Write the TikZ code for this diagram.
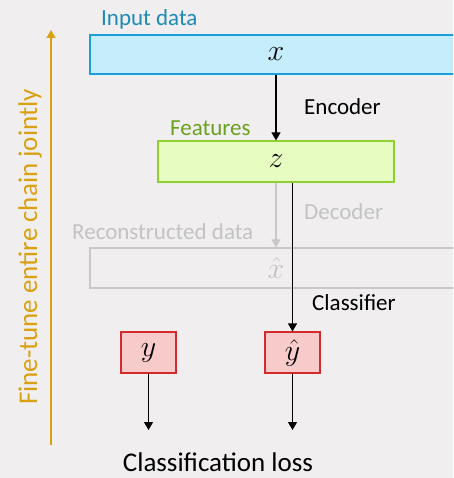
\RequirePackage{fix-cm}
\documentclass[tikz,border=0pt]{standalone}
\usepackage{fontspec}
\setmainfont{Carlito}
\usetikzlibrary{arrows.meta,positioning}
\definecolor{bgcol}{HTML}{F0EEEF}
\definecolor{inblue}{HTML}{C5EDFB}
\definecolor{inline}{HTML}{1AA0D8}
\definecolor{intext}{HTML}{1F8AB5}
\definecolor{featfill}{HTML}{E6FCC0}
\definecolor{featline}{HTML}{8ED12E}
\definecolor{feattext}{HTML}{6AA121}
\definecolor{recline}{HTML}{C8C8C8}
\definecolor{rectext}{HTML}{C3C3C3}
\definecolor{outfill}{HTML}{F8CBCB}
\definecolor{outline}{HTML}{D42A2A}
\definecolor{tunecol}{HTML}{D9A010}
\begin{document}
\begin{tikzpicture}[
		x=1pt, y=-1pt,
		every node/.style={inner sep=0pt, font=\fontsize{23}{27}\selectfont},
		box/.style={draw, line width=1.2pt, minimum height=40pt, font=\fontsize{30}{34}\selectfont},
		inbox/.style={box, fill=inblue, draw=inline, minimum width=372pt, minimum height=39pt},
		featbox/.style={box, fill=featfill, draw=featline, minimum width=236pt, minimum height=41pt},
		recbox/.style={box, draw=recline, text=rectext, minimum width=372pt},
		outbox/.style={box, fill=outfill, draw=outline, minimum width=55pt, minimum height=41pt},
		lbl/.style={anchor=west},
		big/.style={font=\fontsize{27}{31}\selectfont},
		flow/.style={line width=1.2pt, -{Triangle[length=8pt,width=9pt]}},
		]
		\fill [bgcol] (0,0) rectangle (453,478);
		\clip (0,0) rectangle (453,478);
		\node [inbox] (x) at (276,54.5) {$x$};
		\node [featbox] (z) at (276,161.5) {$z$};
		\node [recbox] (xh) at (276,268) {$\hat{x}$};
		\node [outbox] (y) at (148.5,352.5) {$y$};
		\node [outbox] (yh) at (292.5,352.5) {$\hat{y}$};
		\coordinate (ye) at (148.5,430);
		\coordinate (yhe) at (292.5,430);
		\coordinate (tb) at (51,445);
		\coordinate (tt) at (51,30);
		\node [lbl, text=intext] (inlbl) at (101,19) {Input data};
		\node [lbl] (enc) at (304,107) {Encoder};
		\node [lbl, text=feattext] (featlbl) at (170,128) {Features};
		\node [lbl, text=rectext] (dec) at (304,212) {Decoder};
		\node [lbl, text=rectext] (reclbl) at (72,232) {Reconstructed data};
		\node [lbl] (cls) at (312,303) {Classifier};
		\node [big] (loss) at (218,462) {Classification loss};
		\node [big, rotate=90, text=tunecol] (tune) at (30,247) {Fine-tune entire chain jointly};
		\draw [flow] (x) -- (z);
		\draw [flow, draw=recline, fill=recline] (z) -- (xh);
		\draw [flow] (z.south -| yh.north) -- (yh.north);
		\draw [flow] (y) -- (ye);
		\draw [flow] (yh) -- (yhe);
		\draw [flow, draw=tunecol, fill=tunecol] (tb) -- (tt);
	\end{tikzpicture}
\end{document}
